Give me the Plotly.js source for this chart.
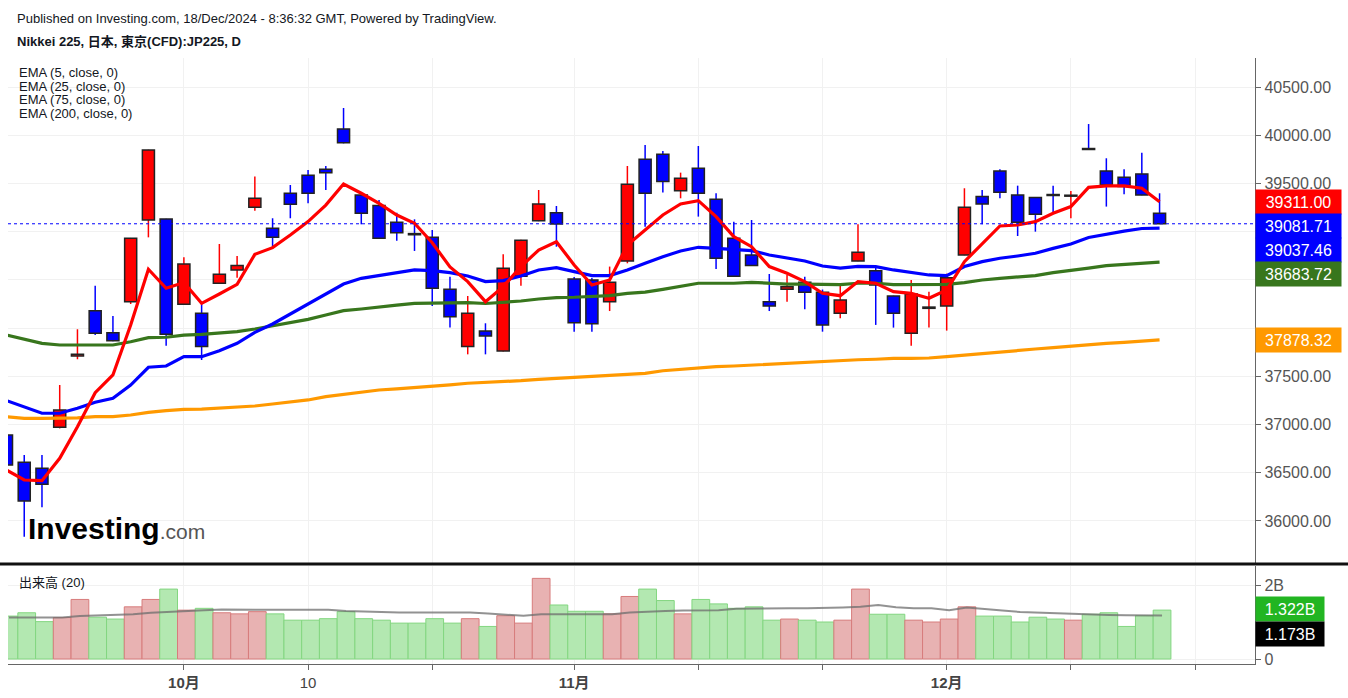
<!DOCTYPE html>
<html>
<head>
<meta charset="utf-8">
<script src="https://cdn.plot.ly/plotly-3.0.1.min.js"></script>
<style>
html,body{margin:0;padding:0;background:#fff;}
#chart{width:1348px;height:698px;}
</style>
</head>
<body>
<div id="chart"></div>
<script>
// ---------- DATA ----------
// Trading-day index 0..65 (13 Sep 2024 .. 18 Dec 2024)
const openP  = [36891,36608,36546,36971,37712,38181,37953,38274,39121,39131,38247,38153,38465,38603,39253,39035,39398,39584,39647,40065,39380,39270,39097,38980,38941,38402,37808,37970,37763,38538,39114,39197,38509,38500,38274,38696,39751,39802,39425,39657,39336,38931,38758,38274,38402,38475,38371,38153,38696,38596,38333,37946,38205,38229,38758,39364,39629,39380,39353,39385,39368,39862,39629,39564,39599,39190];
const highP  = [36950,36684,36684,37410,37988,38440,38125,38935,39850,39135,38734,38250,38872,38748,39571,39139,39484,39639,39681,40282,39385,39328,39197,39128,39017,38533,38333,38050,38765,38915,39432,39266,38530,38520,38638,39681,39899,39836,39612,39888,39398,39104,39121,38561,38551,38533,38400,38437,39076,38638,38336,38499,38378,38565,39450,39432,39646,39477,39356,39477,39422,40116,39761,39647,39819,39398];
const lowP   = [36550,35837,36143,36960,37677,37928,37865,38250,38941,37818,38240,37669,38460,38523,39218,38844,39139,39294,39432,39915,39076,38925,38906,38800,38229,38005,37728,37728,37758,38440,39108,38844,37963,37963,38177,38672,39052,39405,39346,39156,38613,38535,38645,38177,38274,38195,37963,38101,38693,38033,38005,37818,38005,37974,38755,39076,39346,38955,39000,39190,39139,39849,39260,39387,39377,39078];
const closeP = [36580,36207,36380,37151,37728,37946,37870,38931,39847,37936,38665,37808,38558,38648,39346,38941,39284,39398,39612,39922,39190,38931,38990,38968,38412,38118,38153,37918,38621,38911,39287,39080,38056,38045,38475,39491,39398,39519,39553,39398,38724,38538,38648,38229,38430,38371,38033,38291,38786,38447,38153,38354,38218,38523,39253,39287,39408,39097,39180,39375,39378,39852,39484,39467,39380,39081.71];

const ema5   = [36529,36425,36418,36650,36978,37330,37514,38032,38610,38413,38472,38257,38354,38454,38765,38834,38965,39104,39276,39494,39398,39294,39173,39087,38885,38635,38482,38274,38430,38638,38810,38896,38654,38447,38499,38862,39017,39173,39287,39322,39156,38948,38844,38638,38569,38482,38361,38336,38482,38465,38378,38361,38309,38395,38689,38879,39059,39069,39104,39190,39260,39460,39474,39474,39450,39311.00];
const ema25  = [37248,37179,37117,37117,37169,37231,37272,37410,37594,37607,37704,37704,37766,37842,37956,38043,38146,38257,38361,38457,38516,38543,38569,38603,38595,38575,38540,38482,38492,38540,38603,38627,38586,38544,38544,38603,38672,38741,38800,38838,38827,38817,38803,38758,38724,38696,38644,38621,38640,38638,38603,38575,38551,38544,38638,38689,38724,38748,38776,38827,38872,38940,38975,39005,39033,39037.46];
const ema75  = [37928,37887,37842,37825,37825,37825,37825,37859,37901,37905,37928,37936,37953,37963,37991,38025,38060,38091,38136,38181,38198,38222,38239,38257,38260,38264,38264,38255,38264,38281,38302,38316,38320,38326,38337,38361,38374,38402,38430,38465,38465,38465,38475,38465,38457,38457,38450,38450,38465,38465,38450,38450,38450,38454,38472,38499,38516,38534,38544,38575,38596,38621,38648,38662,38675,38683.72];
const ema200 = [37082,37065,37065,37065,37070,37082,37082,37099,37127,37144,37158,37160,37169,37179,37192,37213,37238,37255,37289,37314,37341,37358,37369,37386,37400,37412,37428,37438,37440,37455,37469,37479,37490,37494,37503,37514,37531,37558,37572,37590,37600,37607,37617,37624,37635,37645,37652,37662,37672,37677,37686,37686,37690,37704,37721,37738,37755,37766,37783,37797,37814,37825,37842,37852,37866,37878.32];

// Volume in billions and its 20-period average
const volume = [1.16,1.25,1.01,1.12,1.61,1.13,1.08,1.41,1.61,1.89,1.32,1.37,1.25,1.22,1.28,1.22,1.05,1.05,1.09,1.28,1.09,1.05,0.97,0.97,1.09,0.97,1.09,0.88,1.17,0.97,2.18,1.46,1.29,1.29,1.22,1.69,1.89,1.58,1.22,1.61,1.49,1.37,1.41,1.05,1.08,1.05,1.00,1.05,1.89,1.21,1.21,1.05,1.00,1.08,1.41,1.16,1.16,1.00,1.13,1.08,1.05,1.21,1.25,0.88,1.17,1.322];
const volMA  = [1.12,1.12,1.12,1.12,1.16,1.17,1.18,1.21,1.25,1.28,1.30,1.32,1.34,1.33,1.33,1.33,1.33,1.33,1.33,1.30,1.28,1.26,1.26,1.26,1.26,1.26,1.26,1.23,1.21,1.17,1.21,1.21,1.21,1.21,1.21,1.26,1.29,1.30,1.31,1.31,1.32,1.36,1.37,1.37,1.37,1.37,1.37,1.39,1.41,1.46,1.40,1.37,1.37,1.32,1.39,1.34,1.31,1.27,1.25,1.25,1.23,1.20,1.19,1.18,1.175,1.173];

// x-axis ticks (trading-day index) and labels
const tickIdx  = [10,17,24,32,39,46,53,60,67];
const tickText = ['<b>10月</b>','10','','<b>11月</b>','','','<b>12月</b>','',''];
// price-axis ticks; the ones hidden behind the value boxes carry no text
const priceTicks    = [36000,36500,37000,37500,38000,38500,39000,39500,40000,40500];
const priceTickText = ['36000.00','36500.00','37000.00','37500.00','','','','39500.00','40000.00','40500.00'];
const legendLines = ['EMA (5, close, 0)','EMA (25, close, 0)','EMA (75, close, 0)','EMA (200, close, 0)'];

// ---------- BUILD ----------
const n = closeP.length;
const idx = closeP.map((_, i) => i);
const up = closeP.map((c, i) => c >= openP[i]);
const RED = '#ff0000', BLUE = '#0000ff', GREEN = '#38761d', ORANGE = '#ff9900';
const FONT = 'Liberation Sans, Arial, "Noto Sans CJK JP", sans-serif';

const L = 8, R = 1255, T = 58, B = 664;
const PX = p => (p - L) / (R - L);
const PY = p => (B - p) / (B - T);

const traces = [
  { type: 'bar', x: idx, base: lowP, y: highP.map((h, i) => h - lowP[i]), width: 0.085,
    marker: { color: up.map(u => u ? RED : BLUE), line: { width: 0 } },
    xaxis: 'x', yaxis: 'y', hoverinfo: 'skip' },
  { type: 'bar', x: idx, base: openP.map((o, i) => Math.min(o, closeP[i])),
    y: openP.map((o, i) => Math.abs(closeP[i] - o)), width: 0.68,
    marker: { color: up.map(u => u ? RED : BLUE), line: { color: '#222', width: 1.5 } },
    xaxis: 'x', yaxis: 'y', hoverinfo: 'skip' },
  { type: 'scatter', mode: 'lines', x: idx, y: ema200, line: { color: ORANGE, width: 3.2 }, xaxis: 'x', yaxis: 'y' },
  { type: 'scatter', mode: 'lines', x: idx, y: ema75, line: { color: GREEN, width: 3.2 }, xaxis: 'x', yaxis: 'y' },
  { type: 'scatter', mode: 'lines', x: idx, y: ema25, line: { color: BLUE, width: 3.2 }, xaxis: 'x', yaxis: 'y' },
  { type: 'scatter', mode: 'lines', x: idx, y: ema5, line: { color: RED, width: 3.2 }, xaxis: 'x', yaxis: 'y' },
  { type: 'bar', x: idx, y: volume, width: 1, offset: -0.36,
    marker: { color: up.map(u => u ? '#e8b2b2' : '#b3e8b1'), line: { color: up.map(u => u ? '#d77c7c' : '#83d680'), width: 1 } },
    xaxis: 'x', yaxis: 'y2', hoverinfo: 'skip' },
  { type: 'scatter', mode: 'lines', x: idx.map(i => i + 0.14), y: volMA,
    line: { color: 'rgba(110,110,110,0.75)', width: 2 }, xaxis: 'x', yaxis: 'y2' }
];

const last = n - 1;
const ann = [];
function txt(text, px, py, size, opts) {
  ann.push(Object.assign({ xref: 'paper', yref: 'paper', x: PX(px), y: PY(py), text: text,
    showarrow: false, xanchor: 'left', yanchor: 'middle',
    font: { family: FONT, size: size, color: '#131722' } }, opts || {}));
}
txt('Published on Investing.com, 18/Dec/2024 - 8:36:32 GMT, Powered by TradingView.', 15, 18.5, 13);
txt('<b>Nikkei 225, 日本, 東京(CFD):JP225, D</b>', 15, 41, 13);
legendLines.forEach((s, k) => txt(s, 17, 72.5 + k * 13.7, 13));
txt('出来高 (20)', 17, 582, 13);
txt('<b>Investing</b><span style="font-size:21px;color:#555">.com</span>', 26, 528, 30, { font: { family: FONT, size: 30, color: '#000' } });

function valueBox(val, color, shift, yaxisRef, w, suffix, digits) {
  ann.push({ xref: 'paper', yref: yaxisRef, x: 1, y: val, xanchor: 'left', yanchor: 'middle',
    yshift: shift, text: val.toFixed(digits) + suffix, showarrow: false,
    bgcolor: color, width: w, height: 20, borderpad: 2, align: 'center',
    font: { family: FONT, size: 16, color: '#fff' } });
}
valueBox(ema5[last], RED, 0, 'y', 81, '', 2);
valueBox(closeP[last], BLUE, -2, 'y', 81, '', 2);
valueBox(ema25[last], BLUE, -22, 'y', 81, '', 2);
valueBox(ema75[last], GREEN, -11.5, 'y', 81, '', 2);
valueBox(ema200[last], ORANGE, 0, 'y', 81, '', 2);
valueBox(volume[last], '#22b522', 1, 'y2', 64, 'B', 3);
valueBox(volMA[last], '#000', -18, 'y2', 64, 'B', 3);

const shapes = [
  { type: 'line', xref: 'paper', yref: 'y', x0: 0, x1: 1, y0: closeP[last], y1: closeP[last],
    line: { color: BLUE, width: 1, dash: 'dot' } },
  { type: 'line', xref: 'paper', yref: 'paper', x0: PX(0), x1: PX(1348), y0: PY(564), y1: PY(564),
    line: { color: '#111', width: 3 } }
];

const axisCommon = { showline: true, linecolor: '#666', linewidth: 1.2, ticks: 'outside', ticklen: 5,
  tickcolor: '#666', showgrid: true, gridcolor: '#f1f1f1', zeroline: false, fixedrange: true };

const layout = {
  width: 1348, height: 698,
  margin: { l: L, r: 1348 - R, t: T, b: 698 - B, pad: 0 },
  paper_bgcolor: '#fff', plot_bgcolor: '#fff',
  showlegend: false, barmode: 'overlay', hovermode: false,
  font: { family: FONT },
  xaxis: Object.assign({}, axisCommon, { anchor: 'y2', range: [0.085, 70.38],
    tickmode: 'array', tickvals: tickIdx, ticktext: tickText,
    tickfont: { family: FONT, size: 15, color: '#444' }, rangeslider: { visible: false } }),
  yaxis: Object.assign({}, axisCommon, { domain: [PY(563), 1], side: 'right', anchor: 'x',
    range: [35564.4, 40800.7], tickmode: 'array', tickvals: priceTicks, ticktext: priceTickText,
    tickfont: { family: FONT, size: 16, color: '#555' } }),
  yaxis2: Object.assign({}, axisCommon, { domain: [0, PY(566)], side: 'right', anchor: 'x',
    range: [-0.135, 2.514], tickmode: 'array', tickvals: [0, 2], ticktext: ['0', '2B'],
    tickfont: { family: FONT, size: 16, color: '#555' } }),
  annotations: ann,
  shapes: shapes
};

Plotly.newPlot('chart', traces, layout, { staticPlot: true, displayModeBar: false });
</script>
</body>
</html>
